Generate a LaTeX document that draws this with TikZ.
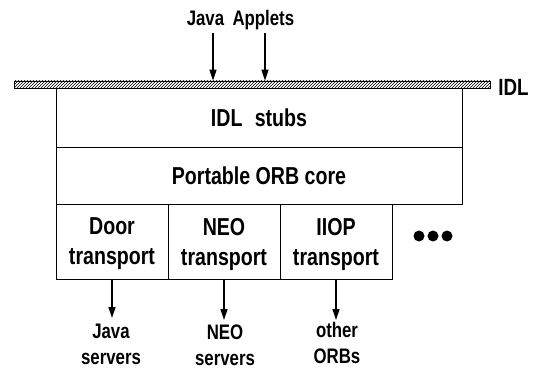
\documentclass[tikz,border=0pt]{standalone}
\usepackage{fontspec}
\setmainfont{Liberation Sans}[FakeStretch=0.8]
\usetikzlibrary{arrows.meta,patterns}
\begin{document}
\begin{tikzpicture}[x=1pt,y=-1pt,
  cell/.style={draw, line width=0.9pt, inner sep=0pt, align=center, text depth=0pt, font=\fontsize{24.5}{30}\selectfont\bfseries},
  lbl/.style={align=center, inner sep=0pt, font=\fontsize{21}{26}\selectfont\bfseries},
  arr/.style={line width=1.3pt, -{Triangle[length=11pt,width=7pt]}},
  dotnode/.style={circle, fill, inner sep=0pt, minimum size=11pt}]
\useasboundingbox (0,0) rectangle (541,369);
% IDL bar
\node[draw, line width=0.8pt, pattern=north east lines, minimum width=476pt, minimum height=7pt, inner sep=0pt] (idlbar) at (252,84.5) {};
\node[font=\fontsize{23.5}{26}\selectfont\bfseries, inner sep=0pt] (idl) at (513.5,87.5) {IDL};
% layers
\node[cell, minimum width=406pt, minimum height=59pt] (stubs) at (259,117.5) {IDL\hspace{0.5em}stubs};
\node[cell, minimum width=406pt, minimum height=57pt] (core) at (259,175.5) {Portable ORB core};
\node[cell, minimum width=112pt, minimum height=75pt] (door) at (112,241.5) {Door\\transport};
\node[cell, minimum width=112pt, minimum height=75pt] (neo) at (224,241.5) {NEO\\transport};
\node[cell, minimum width=112pt, minimum height=75pt] (iiop) at (336,241.5) {IIOP\\transport};
\node[dotnode] (d1) at (419,236) {};
\node[dotnode] (d2) at (433,236) {};
\node[dotnode] (d3) at (447,236) {};
% top label and arrows
\node[lbl] (applets) at (240.5,20) {Java\hspace{0.4em}Applets};
\coordinate (a1) at (213,33);
\coordinate (a2) at (265,33);
\draw[arr] (a1) -- (a1 |- idlbar.north);
\draw[arr] (a2) -- (a2 |- idlbar.north);
% bottom labels and arrows
\node[lbl, anchor=north] (jsrv) at (111,324) {Java\\servers};
\node[lbl, anchor=north] (nsrv) at (225,325) {NEO\\servers};
\node[lbl, anchor=north] (orbs) at (337,322) {other\\ORBs};
\draw[arr, shorten >=6pt] (door.south) -- (door.south |- jsrv.north);
\draw[arr, shorten >=5pt] (neo.south) -- (neo.south |- nsrv.north);
\draw[arr, shorten >=2pt] (iiop.south) -- (iiop.south |- orbs.north);
\end{tikzpicture}
\end{document}
